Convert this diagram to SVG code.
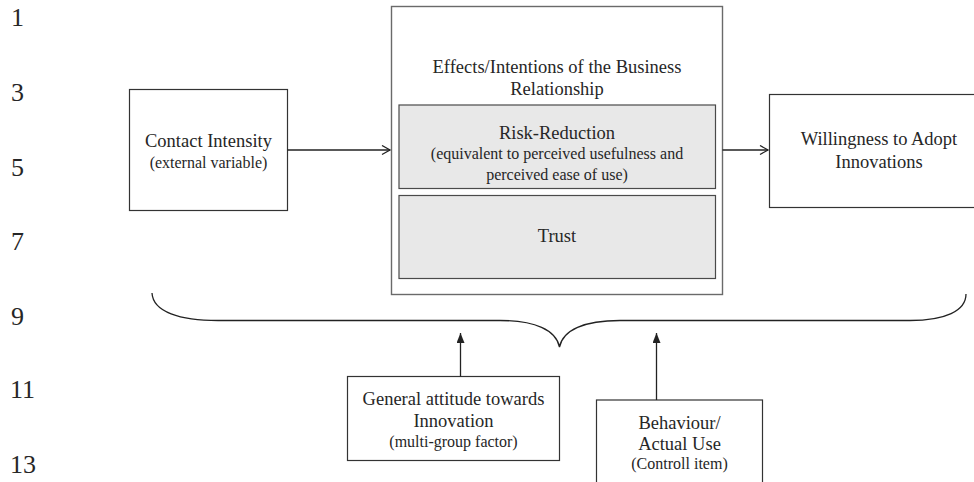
<svg xmlns="http://www.w3.org/2000/svg" width="974" height="482" viewBox="0 0 974 482">
<defs>
<style>
text{font-family:"Liberation Serif","Times New Roman",serif;fill:#262626;}
.num{font-size:26px;}
.t{font-size:18.5px;text-anchor:middle;}
.s{font-size:16px;text-anchor:middle;}
.box{fill:#fff;stroke:#333;stroke-width:1.2;}
.outer{fill:#fff;stroke:#6a6a6a;stroke-width:1.4;}
.inner{fill:#e8e8e8;stroke:#4a4a4a;stroke-width:1.2;}
.conn{fill:none;stroke:#222;stroke-width:1.3;}
</style>
<marker id="open" markerUnits="userSpaceOnUse" markerWidth="12" markerHeight="12" refX="9" refY="5" orient="auto">
<path d="M1,0.5 L9,5 L1,9.5" fill="none" stroke="#222" stroke-width="1.3"/>
</marker>
<marker id="solid" markerUnits="userSpaceOnUse" markerWidth="12" markerHeight="12" refX="10" refY="4" orient="auto">
<path d="M0,0 L10,4 L0,8 Z" fill="#222"/>
</marker>
</defs>
<g id="line-numbers">
<text class="num" x="11" y="26">1</text>
<text class="num" x="11" y="101">3</text>
<text class="num" x="11" y="176">5</text>
<text class="num" x="11" y="250">7</text>
<text class="num" x="11" y="325">9</text>
<text class="num" x="10" y="398">11</text>
<text class="num" x="10" y="473">13</text>
</g>
<g id="effects">
<rect class="outer" x="391.5" y="6.5" width="331" height="288"/>
<text class="t" x="557" y="73">Effects/Intentions of the Business</text>
<text class="t" x="557" y="95">Relationship</text>
</g>
<g id="risk-reduction">
<rect class="inner" x="399" y="105" width="316.5" height="83.5"/>
<text class="t" x="557" y="139">Risk-Reduction</text>
<text class="s" x="557" y="158.5">(equivalent to perceived usefulness and</text>
<text class="s" x="557" y="179.5">perceived ease of use)</text>
</g>
<g id="trust">
<rect class="inner" x="399" y="195.5" width="316.5" height="83"/>
<text class="t" x="557" y="241.5">Trust</text>
</g>
<g id="contact-intensity">
<rect class="box" x="129.5" y="89.5" width="158" height="121"/>
<text class="t" x="208.5" y="146.5">Contact Intensity</text>
<text class="s" x="208.5" y="167.5">(external variable)</text>
</g>
<g id="willingness">
<rect class="box" x="769.5" y="94.5" width="210" height="113"/>
<text class="t" x="879" y="145">Willingness to Adopt</text>
<text class="t" x="879" y="168">Innovations</text>
</g>
<g id="general-attitude">
<rect class="box" x="347.5" y="376.5" width="212" height="84"/>
<text class="t" x="453.5" y="405">General attitude towards</text>
<text class="t" x="453.5" y="427">Innovation</text>
<text class="s" x="453.5" y="446.5">(multi-group factor)</text>
</g>
<g id="behaviour">
<rect class="box" x="596.5" y="400" width="166" height="95"/>
<text class="t" x="679.5" y="428.5">Behaviour/</text>
<text class="t" x="679.5" y="450">Actual Use</text>
<text class="s" x="679.5" y="469">(Controll item)</text>
</g>
<g id="brace">
<path class="conn" d="M152,293 C153,312 180,320.5 218,320.5 L500,320.5 C535,320.5 556,330 559.5,347 C563,330 584,320.5 620,320.5 L910,320.5 C945,320.5 966,311 966,294"/>
</g>
<g id="connectors">
<line class="conn" x1="287.5" y1="150" x2="390" y2="150" marker-end="url(#open)"/>
<line class="conn" x1="722.5" y1="150" x2="768" y2="150" marker-end="url(#open)"/>
<line class="conn" x1="460.5" y1="376.5" x2="460.5" y2="333" marker-end="url(#solid)"/>
<line class="conn" x1="656.5" y1="400" x2="656.5" y2="333" marker-end="url(#solid)"/>
</g>
</svg>
